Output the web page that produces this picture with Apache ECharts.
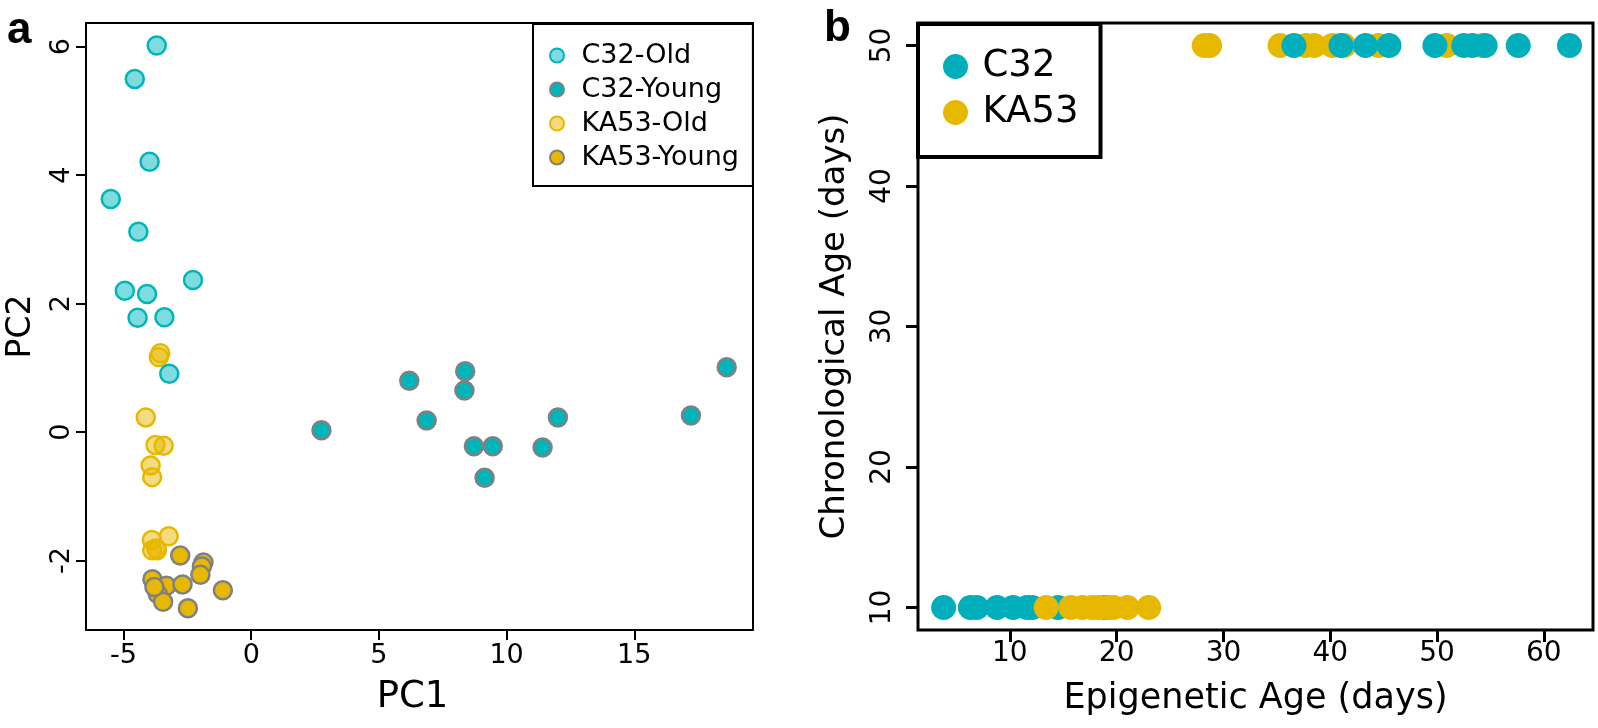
<!DOCTYPE html>
<html>
<head>
<meta charset="utf-8">
<script src="https://cdn.jsdelivr.net/npm/echarts@6/dist/echarts.min.js"></script>
<style>
html,body{margin:0;padding:0;background:#fff;}
#chart{width:1598px;height:728px;}
</style>
</head>
<body>
<div id="chart"></div>
<script>
// ---- Panel a: PCA ----
const c32OldPC1 = [-3.70, -4.56, -3.98, -5.50, -4.42, -2.28, -4.95, -4.08, -4.45, -3.40, -3.21];
const c32OldPC2 = [6.02, 5.50, 4.21, 3.63, 3.12, 2.37, 2.20, 2.15, 1.78, 1.79, 0.91];
const c32YoungPC1 = [2.75, 6.19, 6.87, 8.38, 8.35, 8.72, 9.46, 9.14, 12.01, 11.41, 17.22, 18.62];
const c32YoungPC2 = [0.03, 0.80, 0.18, 0.95, 0.65, -0.22, -0.22, -0.71, 0.23, -0.24, 0.26, 1.01];
const ka53OldPC1 = [-3.56, -3.62, -4.13, -3.75, -3.43, -3.94, -3.88, -3.89, -3.23, -3.88, -3.69, -3.72];
const ka53OldPC2 = [1.23, 1.17, 0.23, -0.20, -0.21, -0.52, -0.70, -1.68, -1.62, -1.84, -1.84, -1.81];
const ka53YoungPC1 = [-2.78, -1.87, -1.93, -1.99, -3.87, -3.32, -2.69, -1.11, -3.66, -3.45, -2.48, -3.79];
const ka53YoungPC2 = [-1.92, -2.03, -2.09, -2.22, -2.29, -2.39, -2.37, -2.46, -2.52, -2.64, -2.74, -2.41];
const pcaGroups = ['C32-Old', 'C32-Young', 'KA53-Old', 'KA53-Young'];
const pc1Ticks = [-5, 0, 5, 10, 15];
const pc2Ticks = [-2, 0, 2, 4, 6];

// ---- Panel b: epigenetic vs chronological age ----
const c32EpiOld = [36.6, 41.0, 43.3, 45.5, 49.8, 52.5, 53.3, 54.5, 57.6, 62.4];
const ka53EpiOld = [28.2, 28.7, 35.3, 37.7, 38.5, 40.2, 41.3, 44.5, 50.9, 54.2];
const c32EpiYoung = [3.8, 6.3, 6.9, 8.8, 10.3, 11.6, 12.1, 14.5, 18.9];
const ka53EpiYoung = [13.4, 15.7, 16.8, 17.7, 18.3, 19.2, 19.7, 21.0, 23.0];
const chronOld = 50;
const chronYoung = 10;
const strains = ['C32', 'KA53'];
const epiTicks = [10, 20, 30, 40, 50, 60];
const chronTicks = [10, 20, 30, 40, 50];

const zip = (xs, ys) => xs.map((x, i) => [x, ys[i]]);
const withY = (xs, y) => xs.map(x => [x, y]);

const TEAL = '#00B5BA';
const TEAL_B = '#00AFBB';
const GOLD = '#E7B800';
const GRAY = '#808080';
const FONT = 'DejaVu Sans';

const chart = echarts.init(document.getElementById('chart'), null, {renderer: 'canvas'});

const mkAxis = (o) => ({
  gridIndex: o.grid, type: 'value', min: o.min, max: o.max,
  name: o.name, nameLocation: 'middle', nameGap: o.nameGap,
  nameTextStyle: {fontSize: o.nfs, fontFamily: FONT, color: '#000', padding: o.npad || 0},
  axisLine: {show: false, onZero: false},
  splitLine: {show: false},
  axisTick: {show: true, inside: false, length: o.tl, lineStyle: {color: '#000', width: o.lw}, customValues: o.ticks},
  axisLabel: {color: '#000', fontSize: o.fs, fontFamily: FONT, margin: o.margin, rotate: o.rotate || 0, customValues: o.ticks}
});

const scatterA = (name, xs, ys, fill, border) => ({
  name: name, type: 'scatter', xAxisIndex: 0, yAxisIndex: 0, symbolSize: 18,
  itemStyle: {color: fill, borderColor: border, borderWidth: 2.5, opacity: 1},
  data: zip(xs, ys)
});
const scatterB = (name, xs, y, color) => ({
  name: name, type: 'scatter', xAxisIndex: 1, yAxisIndex: 1, symbolSize: 25,
  itemStyle: {color: color, opacity: 1},
  data: withY(xs, y)
});

const option = {
  animation: false,
  backgroundColor: '#fff',
  textStyle: {fontFamily: FONT},
  graphic: [
    {type: 'text', left: 7, top: 9, style: {text: 'a', font: 'bold 44px "Liberation Sans"', fill: '#000'}},
    {type: 'text', left: 824, top: 7, style: {text: 'b', font: 'bold 44px "Liberation Sans"', fill: '#000'}}
  ],
  grid: [
    {left: 86, top: 23, width: 667, height: 607, show: true, borderColor: '#000', borderWidth: 2, backgroundColor: 'transparent'},
    {left: 918, top: 23, width: 675, height: 607, show: true, borderColor: '#000', borderWidth: 3, backgroundColor: 'transparent'}
  ],
  xAxis: [
    mkAxis({grid: 0, min: -6.47, max: 19.65, name: 'PC1', nameGap: 49, nfs: 37, npad: [0, 14, 0, 0], tl: 10, lw: 2, fs: 27, margin: 12, ticks: pc1Ticks}),
    mkAxis({grid: 1, min: 1.4, max: 64.6, name: 'Epigenetic Age (days)', nameGap: 51, nfs: 35, tl: 12, lw: 3, fs: 28, margin: 10, ticks: epiTicks})
  ],
  yAxis: [
    mkAxis({grid: 0, min: -3.08, max: 6.37, name: 'PC2', nameGap: 48, nfs: 33, tl: 10, lw: 2, fs: 27, margin: 11, rotate: 90, ticks: pc2Ticks}),
    mkAxis({grid: 1, min: 8.4, max: 51.6, name: 'Chronological Age (days)', nameGap: 66, nfs: 34, tl: 12, lw: 3, fs: 28, margin: 21, rotate: 90, ticks: chronTicks})
  ],
  legend: [
    {
      data: pcaGroups, selectedMode: false, orient: 'vertical',
      left: 533, top: 24,
      itemWidth: 39, itemHeight: 14, itemGap: 7,
      padding: [18, 14, 15, 16],
      borderColor: '#000', borderWidth: 2, backgroundColor: '#fff',
      textStyle: {fontSize: 27, fontFamily: FONT, color: '#000'}
    },
    {
      data: strains, selectedMode: false, orient: 'vertical',
      left: 918, top: 24,
      itemWidth: 44, itemHeight: 25, itemGap: 9,
      padding: [24, 22, 26, 25],
      borderColor: '#000', borderWidth: 4, backgroundColor: '#fff',
      textStyle: {fontSize: 37, fontFamily: FONT, color: '#000'}
    }
  ],
  series: [
    scatterA('KA53-Old', ka53OldPC1, ka53OldPC2, 'rgba(231,184,0,0.5)', GOLD),
    scatterA('KA53-Young', ka53YoungPC1, ka53YoungPC2, GOLD, GRAY),
    scatterA('C32-Old', c32OldPC1, c32OldPC2, 'rgba(0,185,190,0.5)', TEAL),
    scatterA('C32-Young', c32YoungPC1, c32YoungPC2, TEAL, GRAY),
    scatterB('KA53', ka53EpiOld, chronOld, GOLD),
    scatterB('C32', c32EpiOld, chronOld, TEAL_B),
    scatterB('C32', c32EpiYoung, chronYoung, TEAL_B),
    scatterB('KA53', ka53EpiYoung, chronYoung, GOLD)
  ]
};
chart.setOption(option);
</script>
</body>
</html>
